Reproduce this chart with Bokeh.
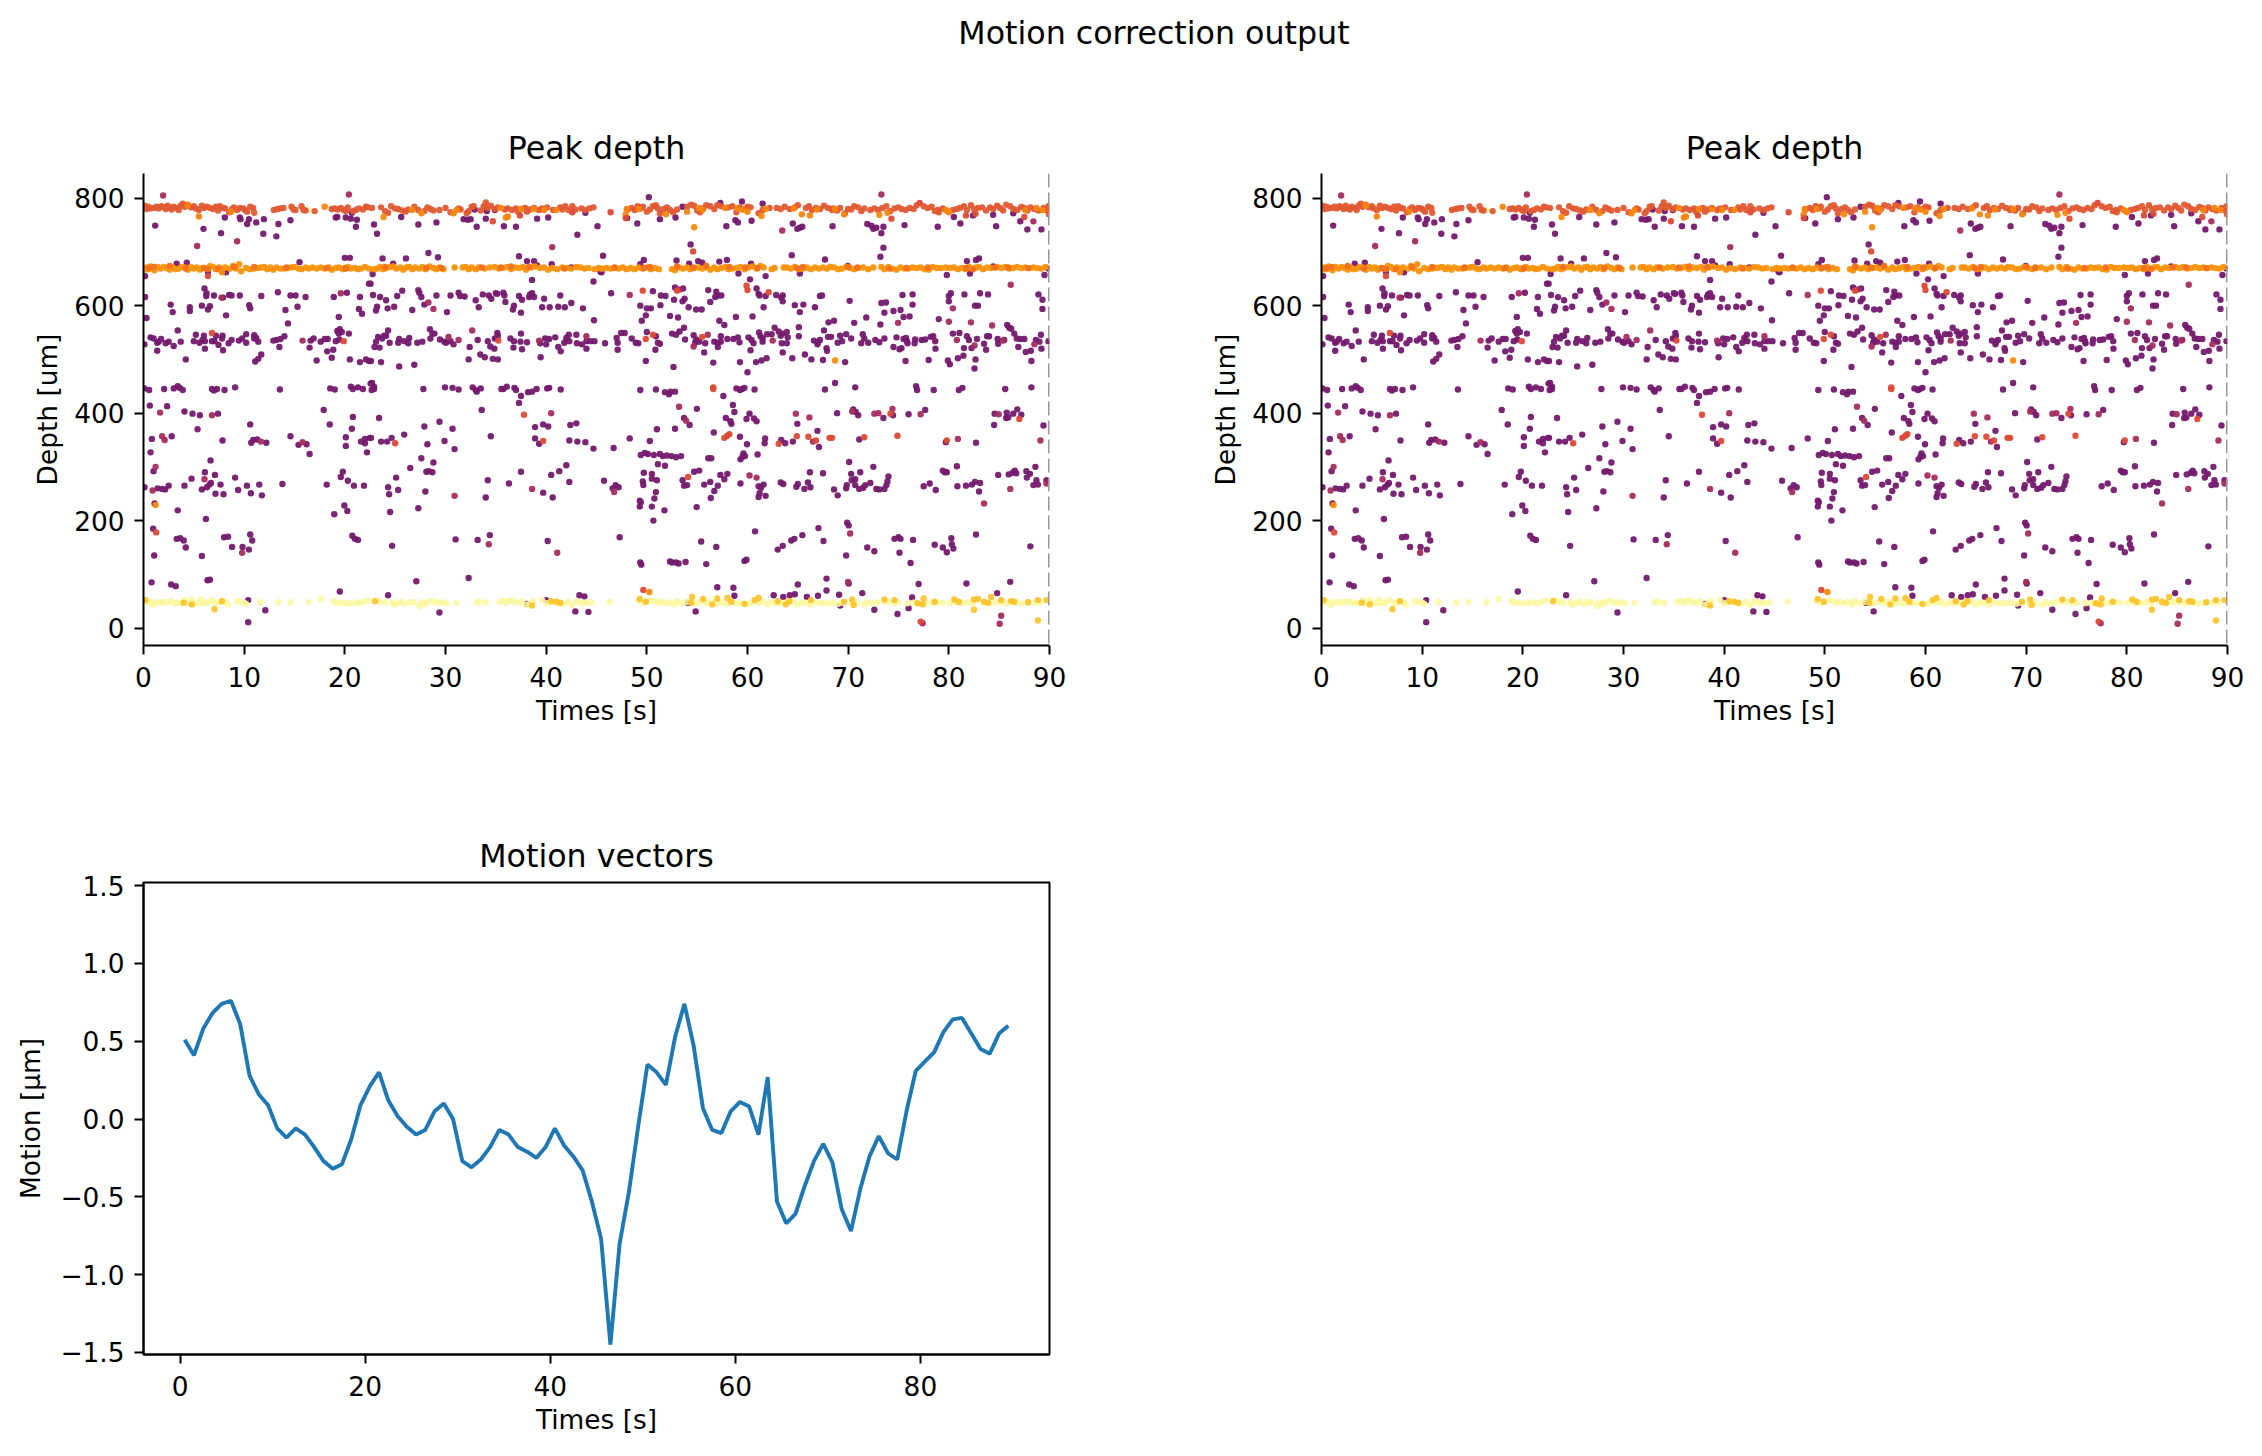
from bokeh.embed import file_html
from bokeh.resources import INLINE
from bokeh.plotting import figure
from bokeh.layouts import column, row
from bokeh.models import Span, Range1d, Title
from bokeh.core.properties import value

# ---------- motion vectors ----------
motion_t = [i + 0.5 for i in range(90)]
motion_um = [0.51,0.41,0.58,0.68,0.74,0.76,0.61,0.28,0.16,0.09,-0.06,-0.12,-0.06,-0.10,-0.18,-0.27,-0.32,-0.29,-0.13,0.09,
 0.21,0.30,0.12,0.02,-0.05,-0.10,-0.07,0.05,0.10,0.00,-0.27,-0.31,-0.26,-0.18,-0.07,-0.10,-0.18,-0.21,-0.25,-0.18,
 -0.06,-0.17,-0.24,-0.33,-0.53,-0.77,-1.45,-0.80,-0.47,-0.05,0.35,0.30,0.22,0.53,0.74,0.47,0.07,-0.07,-0.09,0.05,
 0.11,0.08,-0.10,0.27,-0.53,-0.67,-0.61,-0.43,-0.27,-0.16,-0.28,-0.58,-0.72,-0.45,-0.24,-0.11,-0.22,-0.26,0.05,0.31,
 0.37,0.43,0.56,0.64,0.65,0.55,0.45,0.42,0.55,0.60]

# ---------- peaks: (time s, depth um) ----------
peaks_purple = [
(1.16,749),(5.96,743),(7.7,735),(8.08,764),(9.57,764),(9.64,761),(10.47,761),(10.3,752),(11.2,755),(11.96,761),(11.9,734),(13.2,729),(13.4,752),(14.6,759),(19.1,764),(19.25,765),(20.1,764),(20.6,762),(21.2,760),(21.1,747),(20.7,773),
(3.3,678),(4.3,680),(20.0,689),(20.5,689),(15.5,681),(8.2,662),(6.4,663),(0.16,655),(22.4,641),
(0.16,616),(6.06,632),(6.26,623),(6.23,618),(7.0,619),(7.9,615),(8.5,620),(8.75,619),(9.57,619),(11.7,618),(13.35,625),(14.6,619),(15.1,619),(16.1,616),(18.9,616),(20.2,624),(21.5,616),
(2.7,602),(2.9,588),(4.6,597),(4.6,590),(5.8,600),(6.6,599),(6.4,593),(10.5,601),(10.6,595),(8.2,582),(14.1,592),(15.3,598),(14.35,567),(19.4,579),(21.4,594),(21.7,585),(0.3,577),
(3.4,554),(5.2,546),(6.0,544),(7.2,544),(7.85,544),(7.8,539),(10.2,547),(11.0,545),(11.2,540),(14.0,543),(13.6,538),(19.5,556),(19.25,553),(19.4,548),(19.7,551),(20.4,548),
(0.7,541),(1.0,539),(0.1,528),(1.75,538),(1.36,531),(1.5,533),(2.2,530),(2.5,533),(3.0,525),(3.7,533),(1.36,516),(5.0,534),(5.56,531),(5.86,536),(6.1,534),(6.8,534),(7.05,534),(7.45,527),(7.9,517),(6.1,520),(8.45,530),(8.75,536),(9.47,535),(9.8,539),(10.2,531),(11,539),(11.4,533),(12.9,535),(13.2,536),(13.5,523),(16.6,535),(16.9,539),(16.5,522),(17.6,533),(18,538),(18.3,538),(18.25,515),(18.85,518),(18.7,503),(19.1,534),(19.45,537),(17.2,498),(20.5,500),(21.5,495),(22.1,500),(22.4,497),
(4.2,500),(11.1,496),(11.4,501),(11.7,509),
(0.1,446),(0.56,443),(2.05,445),(3.0,446),(3.4,450),(3.6,447),(3.9,443),(6.8,445),(7.0,442),(7.3,445),(8.05,443),(9.1,448),(13.55,444),(18.55,446),(19,444),(20.6,449),(20.8,445),(21.3,448),(21.8,445),(22.56,455),
(0.63,414),(2.35,413),(4.07,403),(4.87,399),(5.6,396),(7.4,399),(17.9,406),(18.5,379),(20.8,393),(20.7,371),(10.6,379),(5.37,370),
(0.83,352),(2.8,357),(7.85,349),(14.6,357),(10.7,345),(10.9,350),(11.3,351),(12.2,345),(15.4,341),(16.2,342),(16.5,324),(20.1,355),(20.1,339),(21.6,347),(22,352),(22,344),(22.2,327),(22.5,354),
(0.7,327),(1.0,292),(6.66,312),(6.1,290),(7.1,285),(4.77,278),(9.1,280),(19.8,291),(19.6,281),(20.3,274),(0.1,262),
(1.4,260),(1.85,259),(2.15,258),(2.5,265),(4.07,265),(5.8,258),(6.3,262),(6.56,267),(6.7,270),(7.65,267),(7.15,250),(7.95,249),(9.4,257),(10.27,265),(10.67,251),(11.5,267),(11.76,247),(13.8,268),(18.2,267),(20.9,265),(21.9,265),
(1.1,232),(3.4,219),(6.2,203),(19.95,228),(20.25,218),(18.95,212),
(0.96,185),(3.3,166),(3.65,167),(4,163),(4.2,150),(8,169),(8.4,170),(8.8,151),(9.84,151),(10.47,146),(10.6,174),(10.8,163),(1.06,135),(5.8,134),(20.74,172),(21,166),(21.3,164),
(0.8,85),(2.75,81),(3.2,78),(6.36,89),(6.6,90),(19.5,68),(10.4,52),(12.1,33),(10.4,11),
(32.9,779),(34.1,776),(34.9,778),(25.6,765),(27.3,751),(29.1,755),(22.9,751),(23.2,734),(31.8,761),(32.2,760),(32.5,761),(33.1,747),(34,762),(35.8,748),(37,747),(39.1,762),(40.2,764),(43.1,732),(45.1,748),(43.9,773),
(23.75,688),(26.07,688),(28.3,698),(29.25,690),(37.3,692),(38.1,683),(38.8,683),(24.8,678),(40.55,677),(39.1,675),(42.5,671),
(22.76,659),(38.6,648),(44.7,645),(45.4,663),(22.56,641),
(25.7,628),(27.3,629),(27.4,624),(22.8,620),(23.5,616),(24.1,610),(25.2,618),(27.6,616),(29.1,619),(30.5,619),(31.3,624),(31.45,618),(31.9,617),(33,610),(33.7,621),(34.3,619),(34.55,613),(35,623),(35.15,622),(35.75,624),(35.85,619),(35.95,607),(37.3,618),(37.6,611),(38.4,621),(38.3,616),(38.6,623),(38.8,616),(39.8,613),(41.4,619),(42.5,605),
(27.9,602),(30.15,588),(26.7,592),(24.9,598),(24.25,595),(23.2,598),(23.1,591),(33.3,597),(36.8,600),(36.7,593),(37.5,587),(39.6,597),(40.35,597),(41.2,598),(41.85,597),(43.65,595),(44.75,573),
(24.3,554),(28.45,556),(28.7,548),(28.9,548),(35.15,549),(35.2,544),(37.5,548),(23.3,542),(23.9,544),(24.1,544),(23.7,539),(23.1,533),(25.4,538),(25.3,531),(24.45,531),(25.9,534),(26.3,530),(26.4,540),(27.2,531),(27.7,533),(28.5,539),(29.45,537),(29.9,533),(30.05,531),(30.5,534),(30.8,528),(32.4,523),(33.2,536),(34.2,534),(34.9,539),(34.45,524),(34.85,520),(36.45,539),(36.8,534),(37.45,533),(38.1,532),(36.75,522),(37.6,519),(39.4,530),(40,528),(39.9,539),(40.3,538),(40.9,541),(41.2,523),(41.45,515),(41.8,531),(42,540),(42.3,534),(42.25,546),(43,546),(43.05,530),(43.55,528),(44,534),(44,520),(44.4,534),(44.8,534),(22.95,523),(23.45,522),
(39.45,504),(32.3,500),(33.46,509),(33.9,504),(34.7,501),(35.2,500),(22.6,497),(23.6,495),(25.4,487),(26.9,490),
(22.7,456),(22.9,449),(22.9,445),(22.66,443),(27.8,445),(29.95,448),(30.7,447),(31.3,444),(32.7,448),(33,443),(33.1,440),(33.5,446),(35.55,445),(35.75,445),(36.1,449),(36.85,447),(37,443),(37.5,432),(37.3,419),(38.2,439),(38.6,440),(39.05,445),(40.1,446),(40.3,447),(41.45,444),
(33.6,406),(23.4,391),(27.9,375),(29.4,384),(30.7,371),(38.9,374),(39.7,379),(40.2,375),(42.4,378),(43,381),
(22.6,354),(23.6,347),(24.2,347),(24.65,354),(25.9,360),(28.2,342),(29.9,348),(30.9,333),(34.5,357),(38.9,353),(39.3,343),(42.3,349),(43.1,347),(43.9,346),(44.7,334),
(27.6,316),(26.5,298),(28.8,308),(28.1,291),(28.35,292),(28.7,290),(37.5,291),(42,303),(41.3,292),(40.5,285),(42.3,272),
(25.1,280),(34.2,275),(36.3,269),(24.3,262),(25.3,257),(24.4,249),(28,254),(34,243),(39.7,252),(40.65,243),(24.5,216),(27.3,223),
(24.7,153),(31,165),(33.2,164),(34.4,173),(40.15,162),(27.1,87),(32.3,93),(24.3,61),(43.3,61),(43.8,59),(38.1,45),(40,52),(29.4,29),(42.9,31),(44.2,30),
(48.05,763),(50.2,802),(49.05,753),(51.3,761),(52.85,764),(57.9,748),(58.8,759),(59.05,755),(60.4,758),(64.5,753),(64.95,743),(65.2,745),(65.45,747),(53.55,784),(61.5,790),(57.3,791),(59.45,794),
(54.35,714),(45.65,693),(49.7,685),(49.35,677),(52.95,684),(54.2,678),(55.1,683),(55.5,680),(57.2,682),(57.95,685),(60.35,678),(64.4,694),(67.7,686),(45.5,662),(59.1,660),(65.2,660),(60.25,649),(61.8,655),
(46.45,623),(50.6,627),(51.4,619),(51.85,618),(52.8,634),(53.6,632),(52.7,611),(53.75,613),(53.55,608),(56.1,629),(56.9,626),(56.8,616),(57.05,619),(57.4,619),(56.3,607),(60.9,632),(61.1,622),(61.2,619),(61.8,618),(62.85,620),(63.5,619),(63.5,608),(63.35,615),(67.2,618),(67.4,619),(64.7,601),(65.55,602),(66.7,597),(65.2,588),(49.35,600),(50,595),(50.4,595),(51.35,601),(54.15,597),(54.9,593),(55.45,593),(61.6,597),(49.9,582),(52.3,581),(53.1,578),(49.5,572),(57.2,572),(57.7,564),(58.85,579),(60.5,580),
(62.7,559),(65.1,560),(65.1,543),(68.05,569),(67.6,554),(47.45,549),(47.8,549),(50,551),(50.9,543),(47,540),(47.1,531),(45.85,530),(48.5,539),(48.9,531),(49.15,530),(51.1,531),(51.3,529),(47.1,518),(50.85,518),(52.5,548),(52.9,546),(53.25,552),(53.7,559),(53.8,537),(54.65,545),(54.9,537),(54.8,531),(55.2,533),(55.8,530),(55.7,513),(56.7,533),(57.05,531),(57.35,543),(57.35,533),(57.05,523),(58,538),(58.6,538),(59.05,541),(59.2,532),(60.1,541),(60.3,517),(60.4,536),(60.6,530),(61.15,550),(61.3,543),(61.5,539),(61.5,533),(61.95,547),(62.4,547),(63.1,552),(63.3,544),(63.5,548),(63.9,551),(64,541),(63.4,530),(63.9,530),(63.5,513),(66.6,535),(67,532),(67.2,536),(66.95,528),(68,542),(67.85,521),(67.9,516),
(49.9,497),(52.65,486),(56.6,494),(59.25,495),(60,476),(60.85,495),(61.4,498),(61.9,502),(64.45,502),(65.7,509),(66.35,500),(67.5,499),
(49.35,443),(50.9,444),(51.8,439),(52.2,435),(52.35,440),(52.8,440),(58.9,446),(59.25,443),(59.45,445),(59.7,447),(60.7,444),(67.7,444),(57.6,432),
(54.97,408),(58.55,415),(58.7,402),(60.2,399),(59.9,389),(60.65,390),(60.9,385),(57.85,391),(58.3,385),(58.4,380),(53.7,391),(54.25,378),(64.95,380),(51,370),(52.8,371),(66.95,367),(56.65,364),
(48.3,353),(46.7,335),(50.3,348),(59.25,356),(61.75,353),(61.7,344),(59.95,342),(63.35,350),(63.75,344),(64.5,347),(67.1,337),
(49.4,322),(49.8,326),(50.1,324),(50.7,322),(51.3,324),(51.6,320),(52,321),(52.45,320),(52.9,318),(53.4,320),(56.1,316),(56.4,316),(59.6,325),(59.75,320),(59.5,319),(59.3,314),(61,323),
(51.1,305),(51.8,302),(49.7,289),(50.5,287),(50.5,278),(51,275),(54.7,291),(55.2,293),(57.3,285),(58,287),(57.7,277),(66.2,290),(67.5,288),
(45.75,274),(49.6,273),(49.65,266),(46.9,266),(46.6,260),(47.2,262),(53.55,275),(56.3,272),(53.7,265),(54,266),(55.7,267),(57.05,265),(56.7,255),(59.3,269),(61.1,264),(61.6,267),(61.35,261),(50.9,253),(61.2,251),(61.8,246),(61.1,244),(56.35,242),(63.3,271),(63.55,268),(64.85,263),(65,268),(65.65,259),(66,271),(66.25,262),(50.75,241),
(49.3,237),(49.4,234),(49.3,226),(50.5,226),(54.95,225),(51.75,219),(50.65,200),
(47.3,169),(60.75,180),(67.05,186),(55.4,161),(56.9,151),(65.45,173),(64.65,166),(64.35,163),(63.5,153),(63,146),(67.55,162),
(49.35,122),(49.45,118),(52.3,124),(52.5,122),(52.9,122),(53.15,120),(53.85,123),(55.9,119),(59.7,125),(59.9,127),
(57,76),(58.6,75),(58.7,60),(65,81),(67.85,92),(67.85,70),(62.6,61),(63.55,58),(64.2,61),(64.7,63),(65.9,58),(67,60),(54.1,47),(54.85,31),
(71.9,752),(72.3,749),(72.5,743),(72.8,745),(73.5,747),(73.3,735),(75.6,750),(78.9,747),(68.45,748),(81.15,753),(80.5,765),(82.4,768),(84.4,769),(84.7,748),(86.4,772),(87.1,757),(87.8,742),(89.2,742),
(73.5,708),(73.2,691),(81.8,683),(82.7,685),(83,688),(84.4,673),(79.8,657),(82.1,660),(89.5,657),(89.9,669),(69.96,674),
(70.15,609),(73.3,605),(73.75,606),(75.4,620),(76.4,621),(76.4,602),(74.5,590),(75.2,592),(73.6,587),(75.5,579),(76.1,580),(71.8,578),(73.2,565),(70.6,568),(68.6,572),(79,575),(80,618),(80.2,623),(80,608),(81.55,621),(82.6,600),(82.9,600),(83.1,623),(83.9,621),(88.9,621),(89.3,611),(89.3,594),(85.8,564),(86,559),(86.2,557),
(69.8,547),(69.2,544),(68.3,542),(68.96,531),(69.4,534),(70.3,539),(71.45,547),(71.6,539),(71.3,530),(72,531),(72.7,536),(73.1,532),(73.6,539),(74.5,523),(74.8,541),(75.1,519),(75.3,521),(75.5,538),(75.75,540),(75.85,534),(75.9,530),(76.6,530),(76.65,537),(77.3,536),(77.65,537),(78.2,542),(78.45,543),(78.65,534),(78.67,520),(80.4,548),(81.05,549),(81.8,543),(82,536),(81.5,521),(82.25,521),(82.8,538),(83.5,529),(83.7,518),(83.8,543),(84,543),(84.85,538),(84.9,529),(85.5,536),(86.5,548),(86.75,539),(87.1,538),(87.5,538),(86.9,523),(87.65,514),(88.15,516),(88.65,536),(89,533),(89.15,546),(89.2,520),(89.9,534),
(69.7,495),(75.7,497),(78,499),(79.9,498),(80.1,491),(80.9,502),(81.45,507),(82.65,500),(82.55,483),(88.2,497),
(68.7,456),(70.7,448),(76.75,450),(76.85,443),(78.5,443),(81,443),(81.35,447),(85.6,445),(88.2,448),
(68.9,400),(70.5,407),(70.75,402),(71,396),(73.5,391),(74.45,396),(76,398),(77.65,406),(84.55,399),(84.5,378),(85.75,401),(85.7,391),(85.9,392),(86.4,399),(86.8,407),(87.2,397),(89.4,377),
(71.1,351),(79.7,346),(82.7,345),
(70.1,309),(72.5,300),(70.3,287),(71.2,290),(70.35,275),(70.7,277),(70.7,266),(74,282),(73.9,273),(73.8,266),(72.2,270),(71.7,266),(71.5,261),(71.1,259),(69.86,266),(69.8,260),(68.6,258),(68.96,247),(72.8,259),(73.1,258),(73.6,259),(79.4,293),(79.6,290),(79.8,290),(80.8,301),(77.5,264),(78.1,269),(78.7,257),(80.85,264),(81.7,265),(82.3,267),(82.6,272),(83.1,270),(83,254),(84.9,285),(85.95,286),(86.35,289),(86.55,293),(86.7,288),(87.7,292),(88.6,300),(87.75,280),(88.05,287),(88.7,275),(88.4,266),(88.85,267),(89.7,275),
(69.9,196),(70.05,191),(82.7,174),(74.6,166),(75,169),(75.2,166),(76.45,164),(78.6,155),(80.25,167),(80.3,156),(80.45,148),(79.4,150),(79.8,141),(88.1,152),(71.9,150),(72.6,143),(75.1,140),(69.8,135),(76.2,121),
(70.05,83),(77,82),(81.75,83),(86.1,86),(71.4,65),(69.1,62),(84.8,65),(76.35,57),(69.2,42),(72.6,34),(74.9,26),(76,37),
]
peaks_crimson = [
(1.95,805),(5.33,711),(9.3,720),(20.4,807),(7.75,615),(19.6,623),(15.8,535),(1.85,357),(2.1,350),(1.2,300),(1.65,401),(6.8,396),(11.66,347),(15.8,346),(0.9,256),(6.06,277),(9.8,140),
(40.6,709),(32.65,554),(30.3,542),(31.3,536),(39.3,535),(44,543),(40.5,400),(38.6,259),(30.9,246),(34.3,156),(41.1,140),(28.3,606),(28.8,594),
(48.3,620),(53.25,630),(56.05,546),(62.5,535),(53.2,412),(64.8,399),(53.9,386),(66.15,392),(66.5,347),(46.75,253),(60.2,284),(60.9,280),(63.45,740),(73.3,807),(88.4,757),(54.65,524),
(86.15,639),(74.96,568),(80,570),(80.4,595),(82.2,569),(84.3,563),(80.8,536),(82.55,526),(85.4,535),(88.5,528),(70.4,403),(72.6,399),(73,400),(74.4,408),(77.2,398),(84.95,398),(80.9,352),(89.1,349),(86.1,259),(89.7,269),(83.5,232),(70.2,176),(70,86),(85.2,23),(85.05,8),(77.4,9),
]
peaks_red = [
(6.4,655),(6.8,549),(19.9,534),(1.26,178),(34.7,757),(37.4,768),(42.6,774),(35.25,535),(25,344),(39.7,348),(37.8,397),
(46.4,774),(47.9,763),(49.6,628),(53,628),(59.9,637),(60,629),(62.1,625),(50.6,546),(49.9,538),(55.5,542),(56.6,445),(56.6,448),(58.2,361),(58,358),(57.7,354),(63.1,343),(64.9,357),(66.05,356),(66.8,349),(68.15,354),(54.1,281),(49.65,71),(54.6,701),(74.3,762),(81.7,768),(82.65,771),(87.5,765),(74.2,399),(87,389),(68.4,354),(71.6,355),(74.9,358),(79.8,349),(77.2,12),(77.1,791),
]
peaks_orange_misc = [
(1.2,229),(7.8,662),(23.85,765),(54.7,746),(61.4,767),(50.25,67),(68.7,498),(73.1,769),
]

band_780_red = [
(0.1,786),(0.3,780),(0.5,784),(0.7,781),(1.0,782),(1.3,784),(1.5,781),(1.8,785),(2.0,783),(2.2,780),(2.4,786),(2.6,782),(2.8,779),(3.0,784),(3.3,782),(3.5,778),(3.7,786),(3.9,790),(4.1,784),(4.4,788),(4.7,783),(5.0,785),(5.2,781),(5.5,778),(5.8,786),(6.0,782),(6.3,784),(6.6,782),(6.9,780),(7.2,784),(7.4,777),(7.6,785),(7.9,782),(8.1,781),(8.5,774),(8.8,780),(9.0,783),(9.3,778),(9.6,782),(9.9,781),(10.1,778),(10.3,775),(10.6,784),(10.9,782),(11.0,773),
(12.95,778),(13.3,780),(13.6,781),(13.9,782),(14.7,784),(14.9,779),(15.1,778),(15.7,785),(15.9,778),(16.1,777),(17.0,776),
(18.7,780),(19.0,781),(19.3,779),(19.6,782),(19.9,778),(20.1,776),(20.3,783),(20.8,776),(21.1,778),(21.4,781),(21.8,779),(22.1,784),(22.3,783),
(22.7,782),(23.6,783),(24.0,776),(24.3,773),(24.6,785),(25.0,781),(25.3,780),(25.7,777),(26.0,775),(26.3,779),(26.9,784),(27.3,778),(27.9,776),(28.2,783),(28.5,780),(28.8,777),(29.4,778),(30.0,782),(30.5,774),(31.3,781),(31.5,779),(32.1,772),(32.3,776),(32.6,784),(32.8,785),(33.5,777),(33.8,785),(34.0,792),(34.2,782),(34.5,786),(34.9,780),(35.2,783),(35.9,779),(36.2,781),(36.6,778),(37.0,781),(37.2,775),(37.6,780),(37.9,782),(38.1,775),(38.4,779),(38.8,782),(39.3,778),(39.6,781),(40.1,783),(40.7,778),(41.4,783),(41.6,779),(41.9,785),(42.2,778),(42.6,785),(42.9,779),(43.5,781),(43.9,778),(44.3,781),(44.7,783),
(48.1,779),(48.5,782),(48.8,778),(49.1,785),(49.4,781),(49.6,784),(50.0,775),(50.3,779),(50.6,785),(50.9,787),(51.1,781),(51.3,772),(51.7,780),(52.0,783),(52.3,778),(52.6,774),(53.0,779),(54.0,784),(54.4,788),(54.7,786),(55.0,777),(55.3,774),(55.6,781),(55.9,787),(56.3,785),(56.7,780),(57.0,787),(57.4,785),(58.1,783),(58.5,785),(58.9,774),(59.2,783),(59.6,780),(60.0,784),(60.3,783),(61.1,772),(61.5,778),(62.2,782),(62.9,782),(63.3,780),(63.7,784),(64.2,780),(64.7,783),(65.0,787),(65.8,782),(66.1,785),(66.4,778),(66.8,782),(67.2,780),(67.6,786),(68.0,782),(68.4,778),
(68.5,781),(68.9,777),(69.2,782),(69.7,772),(70.0,780),(70.3,779),(70.6,785),(71.0,783),(71.3,776),(71.6,781),(72.2,778),(72.6,781),(73.0,778),(73.4,782),(73.8,785),(74.2,776),(74.6,781),(75.0,783),(75.3,780),(75.7,778),(76.1,782),(76.5,780),(76.8,787),(77.5,785),(77.9,782),(78.3,784),(78.6,776),(78.9,778),(79.0,774),(79.4,781),(80.4,778),(80.8,780),(81.1,782),(81.5,785),(81.8,778),(82.2,787),(82.5,780),(82.9,782),(83.3,783),(83.7,777),(84.1,783),(84.4,780),(84.8,786),(85.1,782),(85.4,777),(85.7,788),(86.1,785),(86.4,780),(86.8,778),(87.2,784),(87.5,782),(87.8,777),(88.1,783),(88.5,780),(88.9,777),(89.4,782),(89.7,778),(89.9,785),(89.95,770),
]
band_780_orange = [
(5.5,766),(4.4,787),(8.7,775),(18,784),(26.7,778),(27.6,772),(30.8,772),(31.1,778),(35.5,782),(36,764),(36.2,766),(37.5,780),(38.8,780),(39.8,778),(41,778),(47.9,770),(48,780),(49.2,780),(51.9,770),(54,775),(55.2,782),(55.5,778),(57.8,782),(59,781),(59.5,779),(60,775),(61.8,780),(64.6,781),(65.4,770),(66.2,768),(66.9,779),(68.7,780),(69.6,770),(73.9,773),(79.7,778),(79.9,776),(80,774),(87.6,778),(88.7,782),(89.3,778),
]
band_670_orange = [
(0.1,667),(0.3,671),(0.5,668),(0.7,673),(0.9,670),(1.1,666),(1.4,672),(1.7,669),(2.0,672),(2.3,670),(2.6,667),(2.9,671),(3.2,668),(3.5,669),(3.8,672),(4.1,671),(4.4,667),(4.7,672),(5.0,669),(5.3,671),(5.6,667),(5.9,670),(6.3,669),(6.6,674),(6.9,672),(7.2,668),(7.5,671),(7.8,668),(8.1,671),(8.6,669),(8.9,674),(9.2,669),(9.5,677),(9.7,664),(10.2,670),(10.6,668),(11,669),(11.4,670),(11.7,671),(12,672),(12.3,668),(12.6,671),(12.9,667),(13.2,671),(13.6,669),(14,669),(14.3,670),(14.7,671),(15.0,672),(15.4,669),(15.7,668),(16.1,671),(16.4,669),(16.8,671),(17.2,669),(17.6,671),(18.0,669),(18.4,671),(18.7,667),(19.1,670),(19.4,671),(19.8,668),(20.0,670),(20.3,672),(20.6,669),(21,670),(21.3,668),(21.6,669),(22,672),(22.4,669),
(22.9,668),(23.2,669),(23.5,672),(23.8,668),(24.1,670),(24.5,672),(24.8,673),(25.1,669),(25.5,671),(25.8,667),(26.1,671),(26.4,672),(26.7,668),(27,671),(27.4,669),(27.7,672),(28,668),(28.4,673),(28.8,670),(29.1,668),(29.4,671),(29.8,668),(30.9,671),(31.7,671),(32,672),(32.3,668),(32.6,671),(33,668),(33.3,671),(33.9,669),(34.4,671),(34.9,672),(35.3,669),(35.7,670),(36.1,672),(36.5,668),(36.9,671),(37.3,670),(37.7,672),(38,667),(38.5,671),(38.9,673),(39.4,670),(39.8,671),(40.2,667),(40.6,670),(41.1,668),(41.6,671),(42,670),(42.5,669),(43,672),(43.4,671),(43.8,669),(44.2,670),(44.8,668),(45.2,670),(45.4,669),
(45.6,669),(46,670),(46.4,669),(46.8,670),(47.2,669),(47.6,671),(48,668),(48.4,670),(48.8,668),(49.2,671),(49.6,669),(50,671),(50.4,668),(50.8,670),(51.2,668),(52.5,668),(52.8,666),(53.2,671),(53.6,669),(54,671),(54.3,668),(54.7,670),(55.1,671),(55.5,669),(55.9,671),(56.3,667),(56.7,671),(57,668),(57.4,670),(57.8,672),(58.1,668),(58.5,669),(58.9,670),(59.3,672),(59.7,668),(60.1,671),(60.5,673),(60.9,669),(61.3,674),(61.6,671),(62.4,668),(62.7,670),(63.6,671),(63.9,671),(64.3,669),(64.7,672),(65.1,668),(65.5,669),(65.9,671),(66.3,668),(66.7,671),(67.1,669),(67.5,671),(67.9,669),(68.2,672),
(68.6,671),(69,668),(69.4,669),(69.8,672),(70.2,670),(70.6,668),(71,670),(71.5,671),(72,668),(72.5,671),(73.3,672),(73.6,668),(74,672),(74.4,669),(74.8,667),(75.2,671),(75.6,669),(76,669),(76.4,671),(76.8,670),(77.2,671),(77.6,668),(78,667),(78.4,672),(78.8,670),(79.2,670),(79.7,671),(80.1,670),(80.5,671),(80.9,668),(81.3,670),(81.7,668),(82,672),(82.3,669),(82.7,671),(83,672),(83.4,668),(83.8,671),(84.2,670),(84.8,672),(85.2,670),(85.6,672),(86,669),(86.4,670),(86.8,672),(87.2,670),(87.6,671),(88,670),(88.4,671),(88.8,670),(89.2,669),(89.6,672),
]
band_670_red = [
(0.5,670),(1.0,672),(2.6,674),(4.2,669),(6,670),(6.4,668),(7.4,668),(9,672),(11,672),(14.2,671),(18.2,670),(20.1,669),(24,672),(28.1,670),(29.6,670),(33.6,671),(35.5,671),(36.5,673),(38.3,672),(41.8,669),(46.8,671),(49.7,670),(50.3,672),(53,673),(54.6,671),(55.9,674),(58.2,672),(59.8,671),(61,670),(64.9,670),(65.5,672),(70,672),(70.9,671),(74.1,669),(75.8,670),(77.9,671),(81.7,670),(82.4,668),(84.6,671),(85.9,671),(87.9,670),
]
band_50_pale = [
(0.1,52),(0.3,48),(0.6,49),(0.9,43),(1.1,47),(1.5,48),(1.8,47),(2.1,48),(2.5,49),(2.8,50),(3.1,46),(3.4,47),(3.7,47),(4.1,52),(4.4,47),(4.8,53),(5.1,47),(5.5,46),(5.7,53),(6,47),(6.3,46),(6.5,49),(6.8,52),(7.2,46),(7.5,48),(7.9,50),(8.2,47),(8.4,44),(9.3,50),(9.6,49),(10,47),(10.2,45),
(11.6,48),(13.4,48),(14.6,48),(16.4,48),(17.6,54),(18.9,50),(19.2,47),(19.6,47),(20.1,46),(20.5,46),(21,48),(21.4,46),(21.9,49),(22.3,51),(16.4,778),
(23.2,52),(23.6,48),(24,47),(24.7,48),(24.9,44),(25.3,46),(25.6,49),(26.0,45),(26.4,48),(26.8,48),(27.4,41),(27.6,48),(27.9,44),(28.2,48),(28.6,51),(29,48),(29.3,47),(29.7,48),(30.1,46),(31.1,47),(33.1,48),(33.4,49),(34,47),(35.4,49),(35.7,51),(36,47),(36.3,50),(36.6,52),(36.9,48),(37.3,47),(37.6,50),(38,43),(38.4,46),(38.7,50),(39.6,52),(40,46),(40.4,48),(40.9,49),(41.3,46),(41.7,45),(42.2,49),(42.6,43),(43,50),(43.3,48),(43.7,46),(44,47),(44.5,48),
(46.3,49),(49.2,51),(49.6,47),(50,49),(50.4,52),(50.8,50),(51.2,47),(51.5,49),(51.9,46),(52.3,48),(52.7,44),(53,50),(53.5,46),(54,49),(54.5,47),(54.9,46),(55.4,49),(55.9,47),(56.3,49),(56.7,47),(57,46),(57.5,47),(58,45),(58.4,49),(58.8,46),(59.3,46),(59.9,44),(60.3,46),(60.8,48),(61.2,47),(61.6,49),(62,44),(62.4,48),(62.8,46),(63.3,47),(63.7,47),(64.1,48),(64.6,49),(65,44),(65.4,47),(65.8,47),(66.3,44),(66.7,47),(67.2,47),(67.5,46),(68,46),
(68.5,47),(69,45),(69.4,47),(70.3,46),(70.9,47),(71.6,44),(71.9,48),(72.4,46),(72.9,48),(73.6,49),(74,49),(74.5,47),(75.0,47),(75.9,46),(76.5,47),(77.2,45),(77.7,47),(78.3,47),(78.8,48),(79.4,47),(80.1,47),(80.6,49),(81,47),(81.4,46),(81.9,48),(82.4,46),(83.5,47),(84,47),(84.6,48),(85.2,48),(85.8,46),(86,48),(86.7,47),(87.2,46),(87.8,47),(88.6,47),(89.1,48),
]
band_50_yellow = [
(0.2,52),(4,47),(4.8,44),(7.05,35),(7.8,50),(23,50),(38.6,42),(40.5,50),(41,49),(41.4,47),
(49.3,54),(49.9,49),(54.5,58),(55.6,54),(54.4,47),(56.5,44),(57,55),(58,56),(58.4,49),(59.7,45),(60.7,52),(61.1,56),(63,50),(64.15,50),(63.8,44),(66.3,52),
(69.6,49),(70.4,53),(70.55,43),(73.6,53),(74.6,52),(76.9,46),(77.5,55),(77.4,44),(78.6,49),(80.55,53),(81,49),(82.5,53),(82.5,34),(82.9,54),(83.5,49),(83.9,47),(84.2,58),(85.2,52),(86.2,50),(87.9,48),(88.85,14),(89.7,52),(88.85,52),(86.5,49),
]

X_TICKS_DEPTH = list(range(0, 100, 10))
Y_TICKS_DEPTH = [0, 200, 400, 600, 800]
X_TICKS_MOTION = [0, 20, 40, 60, 80]
Y_TICKS_MOTION = [-1.5, -1.0, -0.5, 0.0, 0.5, 1.0, 1.5]
FONT = "DejaVu Sans"

def style(p, xlab, ylab, ttl, standoff_y, title_standoff):
    for ax in (p.xaxis[0], p.yaxis[0]):
        ax.axis_line_width = 2
        ax.major_tick_line_width = 2
        ax.major_tick_out = 9
        ax.major_tick_in = 0
        ax.minor_tick_line_color = None
        ax.major_label_text_font = FONT
        ax.major_label_text_font_size = "26.4px"
        ax.major_label_text_color = "black"
        ax.axis_label_text_font = FONT
        ax.axis_label_text_font_size = "26.4px"
        ax.axis_label_text_font_style = "normal"
        ax.axis_label_text_color = "black"
        ax.axis_line_color = "black"
        ax.major_tick_line_color = "black"
    p.xaxis[0].major_label_standoff = 12
    p.yaxis[0].major_label_standoff = 10
    p.xaxis[0].axis_label = xlab
    p.yaxis[0].axis_label = ylab
    p.xaxis[0].axis_label_standoff = 5
    p.yaxis[0].axis_label_standoff = standoff_y
    p.xgrid.visible = False
    p.ygrid.visible = False
    p.add_layout(Title(text=ttl, align="center", text_font=FONT, text_font_size="31.7px",
                       text_font_style="normal", text_color="black", standoff=title_standoff), "above")

GROUPS = [
    (peaks_purple, "#741a6e", 0.95),
    (band_50_pale, "#fcf8a0", 0.85),
    (band_50_yellow, "#fcc229", 0.9),
    (band_670_orange, "#fb9209", 0.95),
    (band_670_red, "#f1701f", 0.95),
    (band_780_red, "#e05a33", 0.95),
    (band_780_orange, "#f8850f", 0.95),
    (peaks_crimson, "#a52c60", 0.95),
    (peaks_red, "#dc4a35", 0.95),
    (peaks_orange_misc, "#f98c0a", 0.95),
]

def depth_panel(border_left, border_right):
    p = figure(frame_width=906, frame_height=472, output_backend="svg", toolbar_location=None,
               x_range=Range1d(0, 90), y_range=Range1d(-32.5, 846),
               min_border_left=border_left, min_border_right=border_right,
               min_border_top=105, min_border_bottom=130, outline_line_color=None)
    style(p, "Times [s]", "Depth [um]", "Peak depth", 8, 16)
    p.xaxis[0].ticker = X_TICKS_DEPTH
    p.yaxis[0].ticker = Y_TICKS_DEPTH
    for pts, col, alpha in GROUPS:
        xs = [a for a, _ in pts]
        ys = [b for _, b in pts]
        p.scatter(xs, ys, size=6.4, fill_color=col, line_color=None, fill_alpha=alpha)
    p.add_layout(Span(location=90, dimension="height", line_color="#999999", line_width=3,
                      line_dash="14 5"))
    return p

p1 = depth_panel(143, 100)
p2 = depth_panel(172, 20)

p3 = figure(frame_width=906, frame_height=472, output_backend="svg", toolbar_location=None,
            x_range=Range1d(-3.95, 93.95), y_range=Range1d(-1.513, 1.52),
            min_border_left=143, min_border_right=100, min_border_top=107, min_border_bottom=70,
            outline_line_color="black", outline_line_width=2)
style(p3, "Times [s]", "Motion [μm]", "Motion vectors", 11, 17)
p3.xaxis[0].ticker = X_TICKS_MOTION
p3.yaxis[0].ticker = Y_TICKS_MOTION
p3.yaxis[0].major_label_overrides = {v: f"{v:.1f}".replace("-", "\u2212") for v in Y_TICKS_MOTION}
p3.line(motion_t, motion_um, line_color="#1f77b4", line_width=3.9)

head = figure(width=2247, height=68, output_backend="svg", toolbar_location=None,
              x_range=Range1d(0, 2247), y_range=Range1d(0, 68), min_border=0, outline_line_color=None)
head.xaxis.visible = False
head.yaxis.visible = False
head.xgrid.visible = False
head.ygrid.visible = False
head.text([1133], [36], text=["Motion correction output"], text_font=value(FONT), text_font_size="31.7px",
          text_align="center", text_baseline="middle", text_color="black")

page = column(head, row(p1, p2), p3, spacing=0)
open("out.html", "w").write(file_html(page, INLINE))
